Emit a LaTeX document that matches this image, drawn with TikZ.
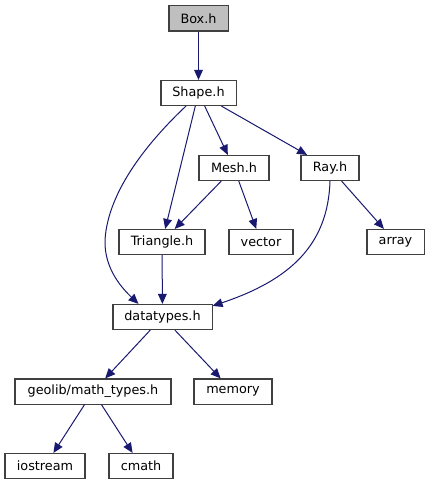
\documentclass[tikz,border=0pt]{standalone}
\usepackage{fontspec}
\setmainfont{DejaVu Sans}
\usepackage{xcolor}
\definecolor{dgEdge}{HTML}{191970}
\definecolor{dgBorder}{HTML}{404040}
\definecolor{dgRoot}{HTML}{BFBFBF}
\usepackage{tikz}
\usetikzlibrary{arrows.meta, calc}

\begin{document}
\begin{tikzpicture}[
    x=0.75pt, y=-0.75pt,
    fileNode/.style={
        rectangle, draw=dgBorder, line width=0.8pt,
        fill=white, text=black,
        font=\fontsize{9.6}{11}\selectfont,
        inner sep=0pt, minimum height=18.8pt
    },
    rootNode/.style={
        fileNode, fill=dgRoot
    },
    includeLine/.style={
        -{Triangle[length=7.5pt, width=6.5pt]}, line width=0.75pt, draw=dgEdge
    }
]
    \useasboundingbox (0,0) rectangle (429,485);

    % Nodes
    \node[rootNode, minimum width=44.3pt] (box) at (198.5, 18.5) {Box.h};
    \node[fileNode, minimum width=56.3pt] (shape) at (198.5, 93) {Shape.h};

    \node[fileNode, minimum width=52.5pt] (mesh) at (234, 168) {Mesh.h};
    \node[fileNode, minimum width=43.5pt] (ray) at (330, 168) {Ray.h};

    \node[fileNode, minimum width=64.5pt] (triangle) at (162, 242) {Triangle.h};
    \node[fileNode, minimum width=48pt] (vector) at (261, 242) {vector};
    \node[fileNode, minimum width=42.8pt] (array) at (395.5, 242) {array};

    \node[fileNode, minimum width=74.3pt] (datatypes) at (162.5, 317) {datatypes.h};

    \node[fileNode, minimum width=117pt] (mathTypes) at (93, 391.5) {geolib/math\_types.h};
    \node[fileNode, minimum width=58.5pt] (memory) at (233, 391.5) {memory};

    \node[fileNode, minimum width=60pt] (iostream) at (45, 466) {iostream};
    \node[fileNode, minimum width=48pt] (cmath) at (141, 466) {cmath};

    % Connections
    \draw[includeLine] (box) -- (shape);

    \draw[includeLine] ($(shape.south)+(-12.5,0)$)
        .. controls (150,140) and (108,190) .. (105,240)
        .. controls (104,270) and (124,290) .. ($(datatypes.north)+(-24,0)$);
    \draw[includeLine] (shape) -- (triangle);
    \draw[includeLine] (shape) -- (mesh);
    \draw[includeLine] (shape) -- (ray);

    \draw[includeLine] (mesh) -- (triangle);
    \draw[includeLine] (mesh) -- (vector);

    \draw[includeLine] ($(ray.south)+(0,0)$)
        .. controls (328,245) and (290,280) .. ($(datatypes.north east)+(0,2)$);
    \draw[includeLine] (ray) -- (array);

    \draw[includeLine] (triangle) -- (datatypes);

    \draw[includeLine] (datatypes) -- (mathTypes);
    \draw[includeLine] (datatypes) -- (memory);

    \draw[includeLine] (mathTypes) -- (iostream);
    \draw[includeLine] (mathTypes) -- (cmath);

\end{tikzpicture}
\end{document}
